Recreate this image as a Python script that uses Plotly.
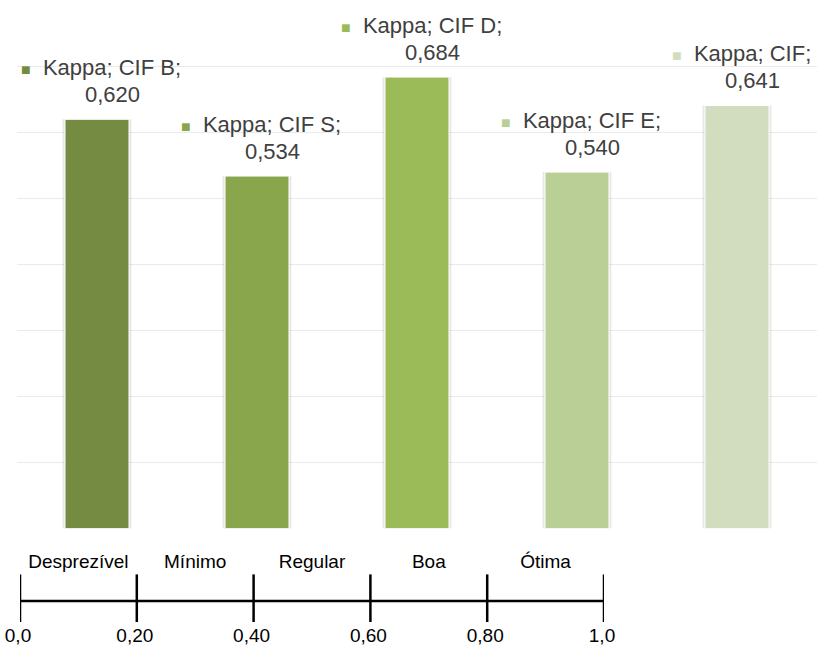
import plotly.graph_objects as go

# ---- data ----
series_name = "Kappa"
categories = ["CIF B", "CIF S", "CIF D", "CIF E", "CIF"]
kappa_values = [0.620, 0.534, 0.684, 0.540, 0.641]
bar_colors = ["#758B41", "#8AA64D", "#9BBB59", "#BACF96", "#D1DDBE"]

scale_ticks = [0.0, 0.2, 0.4, 0.6, 0.8, 1.0]
scale_tick_labels = ["0,0", "0,20", "0,40", "0,60", "0,80", "1,0"]
scale_mids = [0.1, 0.3, 0.5, 0.7, 0.9]
scale_classes = ["Desprezível", "Mínimo", "Regular", "Boa", "Ótima"]

FONT = "Liberation Sans, Arial, sans-serif"
W, H = 817, 648

fig = go.Figure()

# soft shadow behind bars
fig.add_trace(go.Bar(
    x=categories, y=kappa_values, width=0.43,
    marker=dict(color="rgba(0,0,0,0.09)", line=dict(width=0)),
    hoverinfo="skip", xaxis="x", yaxis="y",
))
# main bars
fig.add_trace(go.Bar(
    x=categories, y=kappa_values, width=0.40, name=series_name,
    marker=dict(color=bar_colors, line=dict(color="white", width=1)),
    xaxis="x", yaxis="y",
))

# data labels (line 1: marker + series/category, line 2: value)
annotations = []
sq_size = 16
lab_font = dict(family=FONT, size=22, color="#404040")
for cat, val, col in zip(categories, kappa_values, bar_colors):
    label = f"{series_name}; {cat};"
    val_txt = f"{val:.3f}".replace(".", ",")
    sq = f"<span style='font-size:{sq_size}px;color:{col}'>■</span>\u00a0\u00a0"
    sq_inv = f"<span style='font-size:{sq_size}px;color:rgba(0,0,0,0)'>■</span>\u00a0\u00a0"
    annotations.append(dict(
        x=cat, y=val, xref="x", yref="y", text=f"{sq_inv}{val_txt}",
        showarrow=False, xanchor="center", yanchor="middle",
        xshift=4, yshift=25, font=lab_font,
    ))
    annotations.append(dict(
        x=cat, y=val, xref="x", yref="y", text=f"{sq}{label}",
        showarrow=False, xanchor="center", yanchor="middle",
        xshift=4, yshift=52, font=lab_font,
    ))

# ruler scale
fig.add_trace(go.Scatter(
    x=scale_ticks, y=[0] * len(scale_ticks),
    mode="lines+markers",
    line=dict(color="black", width=2.5),
    marker=dict(symbol="line-ns", size=38, line=dict(color="black", width=2.5)),
    hoverinfo="skip", xaxis="x2", yaxis="y2",
))
fig.add_trace(go.Scatter(
    x=scale_mids, y=[38] * len(scale_mids),
    mode="text", text=scale_classes, textposition="middle center",
    textfont=dict(family=FONT, size=19, color="black"),
    hoverinfo="skip", xaxis="x2", yaxis="y2",
))

plot_bottom_px = 528.5
px_per_unit = 660.0
fig.update_layout(
    width=W, height=H,
    margin=dict(l=17, r=0, t=0, b=0, autoexpand=False),
    paper_bgcolor="white", plot_bgcolor="white",
    showlegend=False, barmode="overlay",
    annotations=annotations,
    xaxis=dict(domain=[0, 1], type="category", range=[-0.5, 4.5],
               showticklabels=False, showgrid=False, zeroline=False,
               showline=False, automargin=False),
    yaxis=dict(domain=[(H - plot_bottom_px) / H, 1],
               range=[0, plot_bottom_px / px_per_unit],
               tickvals=[0.1, 0.2, 0.3, 0.4, 0.5, 0.6, 0.7],
               showticklabels=False, showgrid=True, gridcolor="#EAEAEA",
               gridwidth=1, zeroline=False, showline=False,
               automargin=False),
    xaxis2=dict(domain=[3 / 800, 587 / 800], range=[0, 1], anchor="y2",
                tickvals=scale_ticks, ticktext=scale_tick_labels,
                ticks="", showgrid=False, zeroline=False, showline=False,
                ticklabelshift=-2, automargin=False,
                tickfont=dict(family=FONT, size=19, color="black")),
    yaxis2=dict(domain=[(H - 622) / H, (H - 541) / H], range=[-21, 60],
                showticklabels=False, showgrid=False, zeroline=False,
                showline=False, automargin=False),
)

fig.write_html("out.html")
